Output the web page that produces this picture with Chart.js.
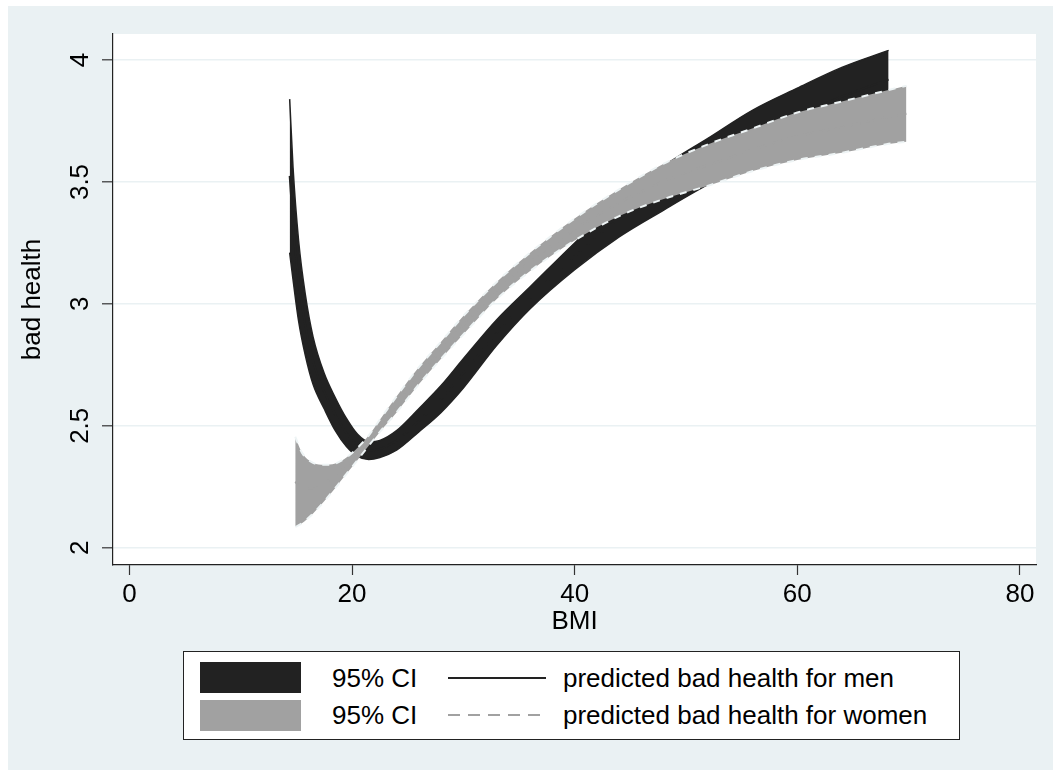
<!DOCTYPE html>
<html>
<head>
<meta charset="utf-8">
<script src="https://cdn.jsdelivr.net/npm/chart.js@4.4.1/dist/chart.umd.min.js"></script>
<style>
  html, body { margin: 0; padding: 0; background: #fff; }
  body { width: 1053px; height: 770px; position: relative; overflow: hidden; font-family: "Liberation Sans", Arial, sans-serif; }
  #panel { position: absolute; left: 8px; top: 6px; width: 1045px; height: 764px; background: #eaf1f3; }
  #grafico { position: absolute; left: 0; top: 0; }
  #leyenda { position: absolute; left: 183px; top: 651px; width: 777px; height: 89px; box-sizing: border-box;
             background: #fff; border: 1.5px solid #222; }
  #leyenda .item { position: absolute; }
  #leyenda .txt { position: absolute; height: 30px; line-height: 30px; font-size: 26px; color: #000; white-space: nowrap; }
</style>
</head>
<body>
<div id="panel">
  <canvas id="grafico" width="1045" height="764"></canvas>
</div>
<div id="leyenda"></div>

<script>
// valores
const bmiMen = [14.4, 14.7, 15.2, 15.8, 16.5, 17.5, 18.5, 19.5, 20.5, 21.5, 22.5, 24, 26, 28, 30, 33, 36, 40, 44, 48, 52, 56, 60, 64, 68.2];
const menUpper = [3.84, 3.56, 3.26, 3.04, 2.865, 2.715, 2.615, 2.53, 2.465, 2.435, 2.44, 2.48, 2.57, 2.665, 2.775, 2.935, 3.07, 3.25, 3.42, 3.565, 3.68, 3.795, 3.885, 3.97, 4.04];
const menLower = [3.21, 3.10, 2.93, 2.79, 2.67, 2.57, 2.48, 2.415, 2.375, 2.362, 2.37, 2.40, 2.475, 2.555, 2.655, 2.83, 2.98, 3.14, 3.275, 3.385, 3.49, 3.58, 3.66, 3.73, 3.80];
const menPred = [3.525, 3.33, 3.095, 2.915, 2.765, 2.64, 2.545, 2.47, 2.42, 2.40, 2.405, 2.44, 2.52, 2.61, 2.715, 2.88, 3.025, 3.195, 3.35, 3.475, 3.585, 3.69, 3.77, 3.85, 3.92];

const bmiWomen = [14.9, 15.5, 16.5, 17.5, 18.5, 19.5, 20.5, 21.5, 22.5, 24, 26, 28, 30, 33, 36, 40, 44, 48, 52, 56, 60, 64, 68, 69.8];
const womenUpper = [2.455, 2.39, 2.348, 2.34, 2.345, 2.37, 2.41, 2.46, 2.525, 2.62, 2.74, 2.845, 2.95, 3.09, 3.21, 3.35, 3.47, 3.575, 3.655, 3.72, 3.785, 3.83, 3.875, 3.895];
const womenLower = [2.085, 2.10, 2.14, 2.19, 2.245, 2.303, 2.36, 2.418, 2.475, 2.555, 2.67, 2.775, 2.875, 3.02, 3.135, 3.26, 3.36, 3.43, 3.485, 3.545, 3.59, 3.62, 3.655, 3.665];
const womenPred = [2.27, 2.245, 2.244, 2.265, 2.295, 2.337, 2.385, 2.44, 2.50, 2.588, 2.705, 2.81, 2.913, 3.055, 3.173, 3.305, 3.415, 3.503, 3.57, 3.633, 3.688, 3.725, 3.765, 3.78];

const xTicks = [0, 20, 40, 60, 80];
const yTicks = [2, 2.5, 3, 3.5, 4];

const legendLabels = ["95% CI", "predicted bad health for men", "95% CI", "predicted bad health for women"];

const NEGRO = '#222222';
const GRIS = '#a1a1a1';

function puntos(xs, ys) {
    return xs.map((x, i) => ({ x: x, y: ys[i] }));
}

// fondo blanco del área de trazado
const fondoPlot = {
    id: 'fondoPlot',
    beforeDraw(chart) {
        const { ctx, chartArea: a } = chart;
        ctx.save();
        ctx.fillStyle = '#ffffff';
        ctx.fillRect(a.left, a.top, a.right - a.left, a.bottom - a.top);
        ctx.restore();
    }
};

Chart.defaults.font.family = "'Liberation Sans', Arial, sans-serif";
Chart.defaults.font.size = 26;
Chart.defaults.color = '#000';

const comun = { pointRadius: 0, pointHoverRadius: 0, cubicInterpolationMode: 'monotone' };

new Chart(document.getElementById('grafico').getContext('2d'), {
    type: 'line',
    data: {
        datasets: [
            // mujeres (se dibujan encima)
            Object.assign({ label: legendLabels[3], data: puntos(bmiWomen, womenPred), borderColor: GRIS, borderWidth: 2, borderDash: [10, 6], fill: false }, comun),
            Object.assign({ label: 'women upper', data: puntos(bmiWomen, womenUpper), borderColor: '#eef4f5', borderWidth: 2, borderDash: [7, 7], fill: false }, comun),
            Object.assign({ label: legendLabels[2], data: puntos(bmiWomen, womenLower), borderColor: '#eef4f5', borderWidth: 2, borderDash: [7, 7], backgroundColor: GRIS, fill: 1 }, comun),
            // hombres
            Object.assign({ label: legendLabels[1], data: puntos(bmiMen, menPred), borderColor: NEGRO, borderWidth: 2, fill: false }, comun),
            Object.assign({ label: 'men upper', data: puntos(bmiMen, menUpper), borderColor: NEGRO, borderWidth: 1.5, fill: false }, comun),
            Object.assign({ label: legendLabels[0], data: puntos(bmiMen, menLower), borderColor: NEGRO, borderWidth: 1.5, backgroundColor: NEGRO, fill: 4 }, comun)
        ]
    },
    options: {
        responsive: false,
        animation: false,
        layout: { padding: { left: 0, top: 28, right: 17, bottom: 133 } },
        plugins: { legend: { display: false }, tooltip: { enabled: false } },
        scales: {
            x: {
                type: 'linear',
                min: -1.47,
                max: 81.44,
                afterBuildTicks: s => { s.ticks = xTicks.map(v => ({ value: v })); },
                afterFit: s => { s.height = 72; },
                ticks: { padding: 4, callback: v => String(v), maxRotation: 0 },
                grid: { drawOnChartArea: false, drawTicks: true, tickLength: 10, tickColor: '#333', tickWidth: 1.2 },
                border: { color: '#222', width: 1.2 },
                title: { display: true, text: 'BMI', padding: { top: 0, bottom: 0 } }
            },
            y: {
                type: 'linear',
                min: 1.929,
                max: 4.107,
                afterBuildTicks: s => { s.ticks = yTicks.map(v => ({ value: v })); },
                afterFit: s => { s.width = 105; },
                ticks: { padding: 3, minRotation: 90, maxRotation: 90, crossAlign: 'center', callback: v => String(v) },
                grid: { color: '#eaf1f3', lineWidth: 1.6, tickLength: 11, tickColor: '#333', tickWidth: 1.2 },
                border: { color: '#222', width: 1.2 },
                title: { display: true, text: 'bad health', padding: { top: 9, bottom: 0 } }
            }
        }
    },
    plugins: [fondoPlot]
});

// leyenda en dos columnas, como en el original
function armarLeyenda() {
    const caja = document.getElementById('leyenda');
    const ox = 183, oy = 651; // esquina de la caja
    const filas = [
        { cy: 676.5, color: NEGRO, guion: '', label1: legendLabels[0], label2: legendLabels[1] },
        { cy: 714, color: GRIS, guion: '12 8', label1: legendLabels[2], label2: legendLabels[3] }
    ];
    filas.forEach(f => {
        const box = document.createElement('div');
        box.className = 'item';
        box.style.left = (199 - ox) + 'px';
        box.style.top = (f.cy - 15.5 - oy) + 'px';
        box.style.width = '101px';
        box.style.height = '31px';
        box.style.background = f.color;
        caja.appendChild(box);

        const t1 = document.createElement('div');
        t1.className = 'txt';
        t1.style.left = (331 - ox) + 'px';
        t1.style.top = (f.cy - 15 - oy) + 'px';
        t1.textContent = f.label1;
        caja.appendChild(t1);

        const svg = document.createElementNS('http://www.w3.org/2000/svg', 'svg');
        svg.setAttribute('width', '100');
        svg.setAttribute('height', '6');
        svg.style.position = 'absolute';
        svg.style.left = (447 - ox) + 'px';
        svg.style.top = (f.cy - 3 - oy) + 'px';
        const ln = document.createElementNS('http://www.w3.org/2000/svg', 'line');
        ln.setAttribute('x1', '0'); ln.setAttribute('x2', '98');
        ln.setAttribute('y1', '3'); ln.setAttribute('y2', '3');
        ln.setAttribute('stroke', f.color);
        ln.setAttribute('stroke-width', '2');
        if (f.guion) ln.setAttribute('stroke-dasharray', f.guion);
        svg.appendChild(ln);
        caja.appendChild(svg);

        const t2 = document.createElement('div');
        t2.className = 'txt';
        t2.style.left = (562 - ox) + 'px';
        t2.style.top = (f.cy - 15 - oy) + 'px';
        t2.textContent = f.label2;
        caja.appendChild(t2);
    });
}
armarLeyenda();
</script>
</body>
</html>
